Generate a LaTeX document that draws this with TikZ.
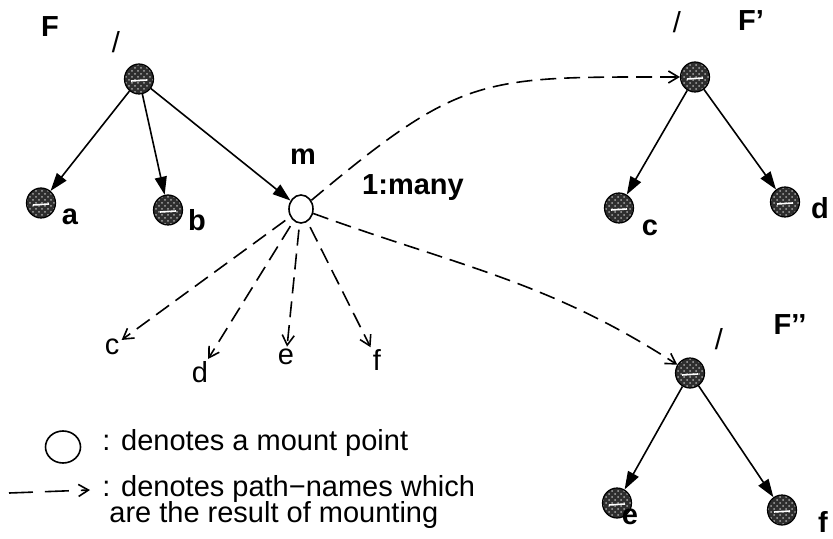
\documentclass[tikz,border=0pt]{standalone}
\usepackage{fontspec}
\setmainfont{Liberation Sans}
\usepackage{tikz}
\usetikzlibrary{arrows.meta,shapes.geometric,patterns}
\newcommand{\plainfont}{\fontsize{14.5}{12.8}\selectfont\lineskiplimit -8pt\relax}
\tikzset{FSnode/.style={shape=ellipse,draw=black,line width=0.6pt,minimum width=14.5pt,minimum height=15pt,inner sep=0pt,preaction={fill=black!82},pattern=crosshatch dots,pattern color=gray!70,
  path picture={\draw[white,line width=0.8pt] ([xshift=-4pt,yshift=-1pt]path picture bounding box.center) -- ++(8pt,0.5pt);}}}
\tikzset{MPnode/.style={shape=ellipse,draw=black,line width=0.8pt,fill=white,minimum width=12pt,minimum height=14pt,inner sep=0pt}}
\tikzset{Lbl/.style={font=\fontsize{14.5}{16}\selectfont\bfseries,inner sep=0pt}}
\tikzset{PLbl/.style={font=\plainfont,inner sep=1pt}}
\tikzset{treearrow/.style={-{Triangle[length=9pt,width=6pt]},line width=0.8pt}}
\tikzset{mountarrow/.style={-{Straight Barb[length=5pt,width=6pt]},line width=0.8pt,dash pattern=on 8pt off 4pt}}

\begin{document}
\begin{tikzpicture}[x=0.5pt,y=0.5pt]
	\useasboundingbox (0,0) rectangle (833,-539);
	% file system F
	\node[FSnode] (F) at (139,-79) {};
	\node[FSnode] (Fa) at (41,-203) {};
	\node[FSnode] (Fb) at (168,-210) {};
	\node[MPnode] (m) at (301,-209) {};
	% file system F'
	\node[FSnode] (G) at (695,-77) {};
	\node[FSnode] (Gc) at (619,-208) {};
	\node[FSnode] (Gd) at (785,-202) {};
	% file system F''
	\node[FSnode] (H) at (690,-373) {};
	\node[FSnode] (He) at (617,-503) {};
	\node[FSnode] (Hf) at (782,-510) {};
	%
	\node[Lbl] (lF) at (50,-27) {F};
	\node[PLbl] (sF) at (116,-42) {/};
	\node[Lbl] (la) at (70,-217) {a};
	\node[Lbl] (lb) at (197,-220) {b};
	\node[Lbl] (lm) at (303,-157) {m};
	\node[Lbl] (lmany) at (413,-188) {1:many};
	\node[Lbl] (lG) at (751,-21) {F’};
	\node[PLbl] (sG) at (677,-22) {/};
	\node[Lbl] (lc) at (650,-228) {c};
	\node[Lbl] (ld) at (820,-208) {d};
	\node[Lbl] (lH) at (790,-325) {F’’};
	\node[PLbl] (sH) at (719,-339) {/};
	\node[Lbl] (le) at (630,-517) {e};
	\node[Lbl] (lf) at (823,-522) {f};
	% path-names through m
	\node[PLbl] (pc) at (112,-347) {c};
	\node[PLbl] (pd) at (200,-372) {d};
	\node[PLbl] (pe) at (286,-357) {e};
	\node[PLbl] (pf) at (377,-360) {f};
	%
	\path[treearrow]
	(F) edge (Fa)
	(F) edge (Fb)
	(F) edge (m)
	(G) edge (Gc)
	(G) edge (Gd)
	(H) edge (He)
	(H) edge (Hf);
	\path[mountarrow]
	(m) edge[out=40,in=180,looseness=1.3] (G)
	(m) edge[out=-20,in=147] (H)
	(m) edge[shorten <=3pt] (pc)
	(m) edge[shorten <=3pt] (pd)
	(m) edge[shorten <=3pt] (pe)
	(m) edge[shorten <=3pt] (pf);
	% legend
	\node[MPnode,minimum width=17.5pt,minimum height=16pt] (lgm) at (63,-447) {};
	\node[PLbl,inner sep=0pt,anchor=base west] (lgmt) at (102,-450) {: denotes a mount point};
	\coordinate (lga) at (9,-493);
	\coordinate (lgb) at (90,-490);
	\draw[mountarrow,dash pattern=on 12pt off 6pt] (lga) -- (lgb);
	\node[PLbl,inner sep=0pt,anchor=north west,align=left] (lgpt) at (102,-475) {: denotes path−names which\\\hspace*{3.5pt}are the result of mounting};
\end{tikzpicture}
\end{document}
